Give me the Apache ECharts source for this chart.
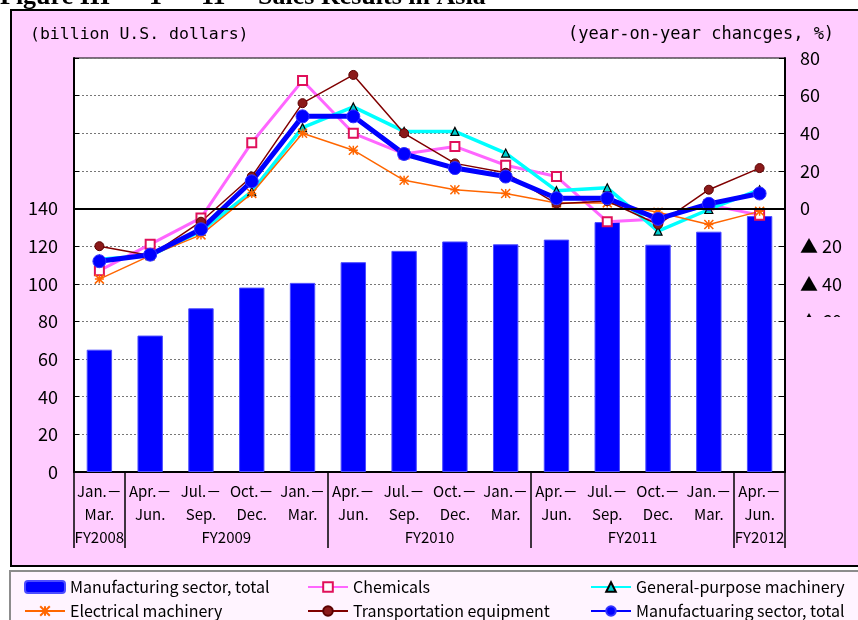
<!DOCTYPE html>
<html>
<head>
<meta charset="utf-8">
<script src="https://cdn.jsdelivr.net/npm/echarts@6/dist/echarts.min.js"></script>
<style>
  html, body { margin: 0; padding: 0; background: #fff; }
  #chart_sales { width: 858px; height: 620px; }
</style>
</head>
<body>
<div id="chart_sales"></div>
<script>
// quarters (x axis, first level)
var quarters = ['Jan.－\nMar.', 'Apr.－\nJun.', 'Jul.－\nSep.', 'Oct.－\nDec.', 'Jan.－\nMar.',
  'Apr.－\nJun.', 'Jul.－\nSep.', 'Oct.－\nDec.', 'Jan.－\nMar.',
  'Apr.－\nJun.', 'Jul.－\nSep.', 'Oct.－\nDec.', 'Jan.－\nMar.', 'Apr.－\nJun.'];
// fiscal years (x axis, second level)
var fyLabels = ['FY2008', 'FY2009', 'FY2010', 'FY2011', 'FY2012'];
var fyCenters = [0.5, 3, 7, 11, 13.5];
var fyBounds = [0, 1, 5, 9, 13, 14];

// sales, billion U.S. dollars (left axis)
var salesTotal = [65, 72.5, 87, 98, 100.5, 111.5, 117.5, 122.5, 121, 123.5, 132.8, 120.8, 127.7, 136];
// year-on-year changes, % (right axis)
var chemicals = [-33, -19, -5, 35, 68, 40, 29, 33, 23, 17, -7, -5.5, 2, -3.5];
var generalPurpose = [-27, -25, -12, 9, 43, 54, 41, 41, 29.5, 9.5, 11, -12, -0.5, 10];
var electrical = [-37.5, -25, -14, 8, 40, 31, 15, 10, 8, 3, 3, -2, -8.5, -1.5];
var transportation = [-20, -25, -7, 17, 56, 71, 40, 24, 19, 2.5, 4, -8.5, 10, 21.5];
var manufacturing = [-28, -24.5, -11, 14.5, 49, 49, 29, 21.5, 17, 5.5, 5.5, -5.5, 2.5, 8];

var gothic = '"Noto Sans CJK JP", "Noto Sans", sans-serif';
var mono = '"DejaVu Sans Mono", monospace';
var asterisk = 'path://M0,0L10,10M10,0L0,10M0,5L10,5M5,0L5,10';

// one legend per entry, laid out like the original 3 x 2 box
function legendItem(name, left, top) {
  return {
    left: left, top: top, padding: 0, itemWidth: 40, itemHeight: 12, itemGap: 0,
    textStyle: { fontSize: 16, fontFamily: gothic, color: '#000' },
    data: [name]
  };
}

var chart = echarts.init(document.getElementById('chart_sales'));

chart.setOption({
  animation: false,
  backgroundColor: '#fff',
  textStyle: { fontFamily: gothic, color: '#000' },
  graphic: [
    { type: 'text', left: 0, top: -16, z: 1,
      style: { text: 'Figure III － 1 － 11　 Sales Results in Asia', font: 'bold 26px "Liberation Serif", serif', fill: '#000' } },
    // pink panel
    { type: 'rect', z: -10, shape: { x: 11, y: 10, width: 852, height: 556 },
      style: { fill: '#ffccff', stroke: '#000', lineWidth: 2 } },
    // legend box
    { type: 'rect', z: -10, shape: { x: 10, y: 571, width: 853, height: 56 },
      style: { fill: '#fff4ff', stroke: '#8c8c8c', lineWidth: 2 } },
    { type: 'text', left: 30, top: 26,
      style: { text: '(billion U.S. dollars)', font: '16.5px ' + mono, fill: '#000' } },
    { type: 'text', left: 568, top: 26,
      style: { text: '(year-on-year chancges, %)', font: '17px ' + mono, fill: '#000' } },
    // hides the lower part of the clipped right-axis labels
    { type: 'rect', z: 100, shape: { x: 789, y: 317, width: 70, height: 150 },
      style: { fill: '#ffccff' } }
  ],
  grid: {
    left: 74, right: 73, top: 58, bottom: 148,
    show: true, backgroundColor: '#fff', borderColor: '#000', borderWidth: 1
  },
  legend: [
    legendItem('Manufacturing sector, total', 24, 579),
    legendItem('Chemicals', 307, 579),
    legendItem('General-purpose machinery', 590, 579),
    legendItem('Electrical machinery', 24, 603),
    legendItem('Transportation equipment', 307, 603),
    legendItem('Manufactuaring sector, total', 590, 603)
  ],
  xAxis: [
    {
      type: 'category',
      data: quarters,
      position: 'bottom',
      axisLine: { onZero: false, lineStyle: { color: '#000', width: 2 } },
      axisTick: { interval: 0, length: 50, lineStyle: { color: '#000', width: 1.5 } },
      axisLabel: { interval: 0, color: '#000', fontSize: 15, lineHeight: 23, margin: 8 }
    },
    {
      type: 'value',
      min: 0, max: 14,
      position: 'bottom',
      splitLine: { show: false },
      axisLine: { show: false, onZero: false },
      axisTick: { show: true, customValues: fyBounds, length: 76, lineStyle: { color: '#000', width: 1.5 } },
      axisLabel: {
        customValues: fyCenters, color: '#000', fontSize: 15, margin: 58,
        formatter: function (v) { return fyLabels[fyCenters.indexOf(v)]; }
      }
    }
  ],
  yAxis: [
    {
      type: 'value', min: 0, max: 220, interval: 20, position: 'left',
      axisLine: { show: true, lineStyle: { color: '#000', width: 2 } },
      axisTick: { show: true, inside: true, length: 5, lineStyle: { color: '#000' } },
      splitLine: { lineStyle: { color: '#777', type: [2, 2], width: 1 } },
      axisLabel: {
        color: '#000', fontSize: 18, margin: 16,
        formatter: function (v) { return v <= 140 ? v : ''; }
      }
    },
    {
      type: 'value', min: -140, max: 80, interval: 20, position: 'right',
      axisLine: { show: true, lineStyle: { color: '#000', width: 2 } },
      axisTick: { show: true, inside: true, length: 6, lineStyle: { color: '#000' } },
      splitLine: { show: false },
      axisLabel: {
        color: '#000', fontSize: 18, margin: 15, align: 'left',
        formatter: function (v) {
          if (v >= 0) return v;
          if (v >= -60) return '▲ ' + (-v);
          return '';
        }
      }
    }
  ],
  series: [
    {
      name: 'Manufacturing sector, total',
      type: 'bar',
      data: salesTotal,
      barWidth: '50%',
      itemStyle: { color: '#0000ff', borderColor: '#4d4dff', borderWidth: 1 }
    },
    {
      name: 'Chemicals',
      type: 'line',
      yAxisIndex: 1,
      data: chemicals,
      symbol: 'rect',
      symbolSize: 9,
      lineStyle: { color: '#ff66ff', width: 3 },
      itemStyle: { color: '#fff', borderColor: '#e0105a', borderWidth: 2 }
    },
    {
      name: 'General-purpose machinery',
      type: 'line',
      yAxisIndex: 1,
      data: generalPurpose,
      symbol: 'triangle',
      symbolSize: 8,
      lineStyle: { color: '#00ffff', width: 3.5 },
      itemStyle: { color: '#00cccc', borderColor: '#000', borderWidth: 1.2 }
    },
    {
      name: 'Electrical machinery',
      type: 'line',
      yAxisIndex: 1,
      data: electrical,
      symbol: asterisk,
      symbolSize: 9,
      lineStyle: { color: '#ff6600', width: 1.5 },
      itemStyle: { color: 'none', borderColor: '#ff6600', borderWidth: 1.5 }
    },
    {
      name: 'Transportation equipment',
      type: 'line',
      yAxisIndex: 1,
      data: transportation,
      symbol: 'circle',
      symbolSize: 9,
      lineStyle: { color: '#800000', width: 1.5 },
      itemStyle: { color: '#8b1a1a', borderColor: '#5a0000', borderWidth: 1 }
    },
    {
      name: 'Manufactuaring sector, total',
      type: 'line',
      yAxisIndex: 1,
      data: manufacturing,
      symbol: 'circle',
      symbolSize: 13,
      lineStyle: { color: '#0000ff', width: 5 },
      itemStyle: { color: '#0000ff', borderColor: '#3333ff', borderWidth: 1 },
      markLine: {
        silent: true,
        symbol: 'none',
        label: { show: false },
        lineStyle: { color: '#000', width: 2, type: 'solid' },
        data: [{ yAxis: 0 }]
      }
    }
  ]
});
</script>
</body>
</html>
